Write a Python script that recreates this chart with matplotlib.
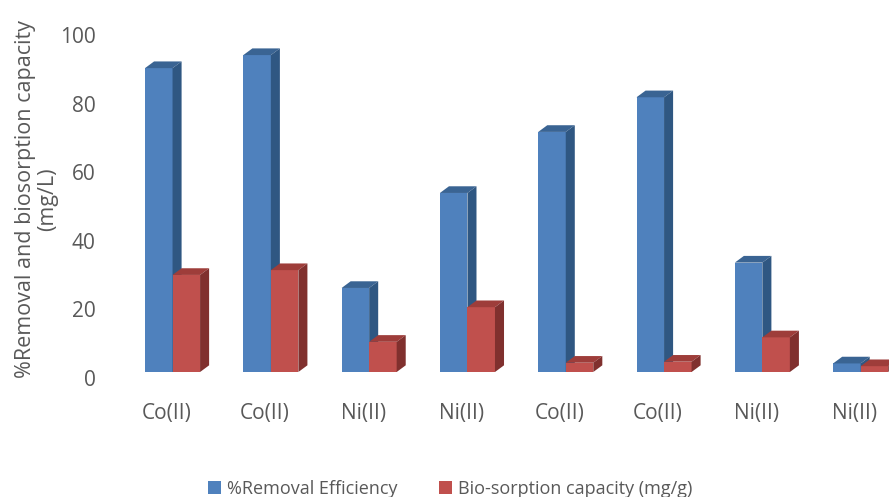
import numpy as np
import matplotlib.pyplot as plt
from matplotlib.patches import Polygon, Patch
from matplotlib.transforms import ScaledTranslation

plt.rcParams["font.family"] = ["Open Sans", "DejaVu Sans"]

categories = ["Co(II)", "Co(II)", "Ni(II)", "Ni(II)", "Co(II)", "Co(II)", "Ni(II)", "Ni(II)"]
removal = [88.6, 92.4, 24.5, 52.2, 70.0, 80.1, 31.9, 2.5]
capacity = [28.3, 29.7, 8.8, 18.9, 2.7, 3.0, 10.1, 1.7]

series = [
    ("%Removal Efficiency", removal, "#4F81BD", "#3A6493", "#2F5782"),
    ("Bio-sorption capacity (mg/g)", capacity, "#C0504D", "#9E3D3A", "#80302E"),
]

W = 0.28      # bar width (x units)
DX = 0.092    # depth offset, x units
DY = 1.95     # depth offset, y units
TXT = "#595959"

fig = plt.figure(figsize=(8.89, 4.97), dpi=100)
ax = fig.add_axes([0.1388, 0.2515, 0.8846, 0.6901])
ax.set_xlim(-0.5, 7.5)
ax.set_ylim(0, 100)

x = np.arange(len(categories))


def box(ax, x0, h, front, top, side):
    x1 = x0 + W
    ax.add_patch(Polygon([(x0, 0), (x1, 0), (x1, h), (x0, h)], closed=True,
                         facecolor=front, edgecolor="none"))
    ax.add_patch(Polygon([(x0, h), (x1, h), (x1 + DX, h + DY), (x0 + DX, h + DY)],
                         closed=True, facecolor=top, edgecolor="none"))
    ax.add_patch(Polygon([(x1, 0), (x1 + DX, DY), (x1 + DX, h + DY), (x1, h)],
                         closed=True, facecolor=side, edgecolor="none"))


for i in x:
    for k, (name, vals, front, top, side) in enumerate(series):
        box(ax, i - W + k * W, vals[i], front, top, side)

for s in ax.spines.values():
    s.set_visible(False)
ax.tick_params(length=0, colors=TXT, labelsize=15)

ax.set_yticks(np.arange(0, 101, 20))
ax.set_xticks(x)
ax.set_xticklabels(categories)
ax.tick_params(axis="x", pad=22)
ax.tick_params(axis="y", pad=20)

shift_y = ScaledTranslation(0, -0.06, fig.dpi_scale_trans)
for lab in ax.get_yticklabels():
    lab.set_transform(lab.get_transform() + shift_y)
shift_x = ScaledTranslation(-0.06, 0, fig.dpi_scale_trans)
for lab in ax.get_xticklabels():
    lab.set_transform(lab.get_transform() + shift_x)

fig.text(0.041, 0.60, "%Removal and biosorption capacity\n(mg/L)", rotation=90,
         ha="center", va="center", fontsize=15.5, color=TXT, linespacing=1.1)

handles = [Patch(facecolor=c, edgecolor="none", label=n) for n, _, c, _, _ in series]
fig.legend(handles=handles, loc="lower center", bbox_to_anchor=(0.506, -0.035),
           ncol=2, frameon=False, fontsize=13, labelcolor=TXT,
           handlelength=0.75, handleheight=0.75, handletextpad=0.3,
           columnspacing=2.3)

fig.savefig("out.png", dpi=100)
